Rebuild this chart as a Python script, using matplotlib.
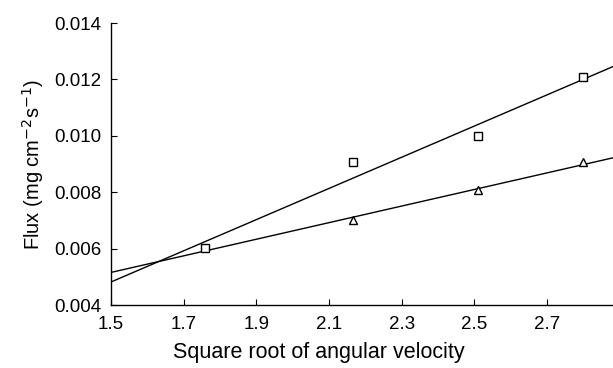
import numpy as np
import matplotlib
matplotlib.use("Agg")
import matplotlib.pyplot as plt

plt.rcParams['font.family'] = ['Liberation Sans', 'DejaVu Sans']

x_vals = [1.76, 2.165, 2.51, 2.80]
flux_squares = [0.00602, 0.00906, 0.0100, 0.01207]
flux_triangles = [0.0060, 0.00701, 0.00807, 0.00906]
xticks = [1.5, 1.7, 1.9, 2.1, 2.3, 2.5, 2.7]
yticks = [0.004, 0.006, 0.008, 0.010, 0.012, 0.014]
xlim = (1.5, 2.882)

fig = plt.figure(figsize=(6.13, 3.68), dpi=100)
ax = fig.add_axes([0.181, 0.171, 0.819, 0.7665])

xs = np.array(x_vals)
line_x = np.array(xlim)
for ys in (flux_squares, flux_triangles):
    p = np.polyfit(xs, np.array(ys), 1)
    ax.plot(line_x, np.polyval(p, line_x), color='black', lw=1.0, zorder=2)

ax.plot(xs[1:], flux_triangles[1:], linestyle='none', marker='^', ms=6,
        mfc='white', mec='black', mew=1.0, zorder=3)
ax.plot(xs, flux_squares, linestyle='none', marker='s', ms=5.5,
        mfc='white', mec='black', mew=1.0, zorder=4)

ax.set_xlim(*xlim)
ax.set_ylim(0.004, 0.014)
ax.set_xticks(xticks)
ax.set_xticklabels([f"{v:.1f}" for v in xticks])
ax.set_yticks(yticks)
ax.set_yticklabels([f"{v:.3f}" for v in yticks])
ax.spines['top'].set_visible(False)
ax.spines['right'].set_visible(False)
for s in ('left', 'bottom'):
    ax.spines[s].set_linewidth(1.0)
ax.tick_params(direction='in', length=4, width=0.8, labelsize=13.5)
ax.tick_params(axis='y', pad=7)
ax.tick_params(axis='x', pad=8)

ax.set_xlabel('Square root of angular velocity', fontsize=15.5, labelpad=7)
ax.xaxis.set_label_coords(0.414, -0.13)
ax.set_ylabel('Flux (mg cm$^{-2}$s$^{-1}$)', fontsize=14.5, labelpad=6)

fig.savefig('out.png', dpi=100)
